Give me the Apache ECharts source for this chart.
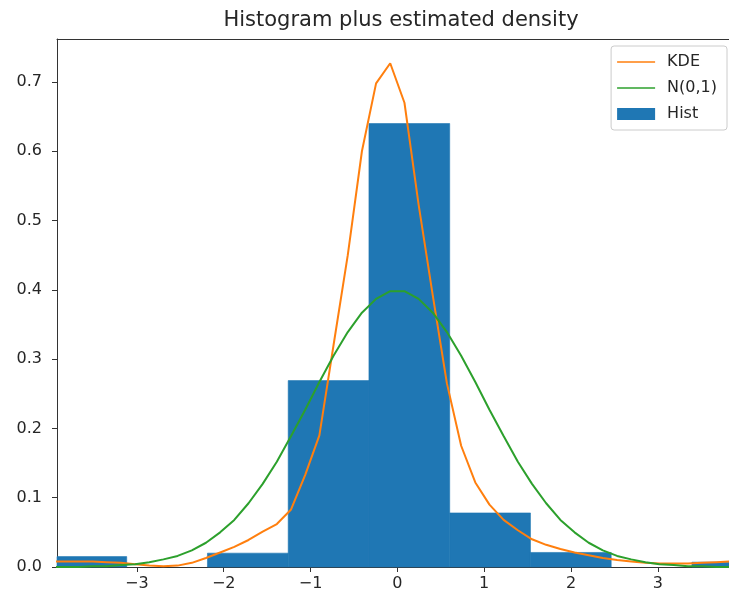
<!DOCTYPE html>
<html>
<head>
<meta charset="utf-8">
<script src="https://cdn.jsdelivr.net/npm/echarts@6/dist/echarts.min.js"></script>
<style>
  html, body { margin: 0; padding: 0; background: #fff; }
  #chart { width: 729px; height: 599px; }
</style>
</head>
<body>
<div id="chart"></div>
<script>
// Evaluation grid shared by the two density curves
const gridX = [
  -4.000, -3.837, -3.673, -3.510, -3.347, -3.184, -3.020, -2.857, -2.694, -2.531,
  -2.367, -2.204, -2.041, -1.878, -1.714, -1.551, -1.388, -1.224, -1.061, -0.898,
  -0.735, -0.571, -0.408, -0.245, -0.082,  0.082,  0.245,  0.408,  0.571,  0.735,
   0.898,  1.061,  1.224,  1.388,  1.551,  1.714,  1.878,  2.041,  2.204,  2.367,
   2.531,  2.694,  2.857,  3.020,  3.184,  3.347,  3.510,  3.673,  3.837,  4.000
];

// Kernel density estimate on the grid
const kdeValues = [
  0.008, 0.008, 0.008, 0.008, 0.007, 0.006, 0.004, 0.002, 0.001, 0.002,
  0.006, 0.013, 0.021, 0.029, 0.039, 0.051, 0.062, 0.083, 0.133, 0.190,
  0.320, 0.450, 0.600, 0.698, 0.727, 0.670, 0.523, 0.392, 0.265, 0.175,
  0.122, 0.090, 0.068, 0.053, 0.040, 0.032, 0.026, 0.021, 0.017, 0.013,
  0.010, 0.008, 0.006, 0.005, 0.005, 0.005, 0.006, 0.007, 0.008, 0.008
];

// Standard normal density on the same grid
const normalValues = [
  0.000, 0.000, 0.000, 0.001, 0.001, 0.003, 0.004, 0.007, 0.011, 0.016,
  0.024, 0.035, 0.050, 0.068, 0.092, 0.120, 0.152, 0.189, 0.227, 0.267,
  0.305, 0.339, 0.367, 0.387, 0.398, 0.398, 0.387, 0.367, 0.339, 0.305,
  0.267, 0.227, 0.189, 0.152, 0.120, 0.092, 0.068, 0.050, 0.035, 0.024,
  0.016, 0.011, 0.007, 0.004, 0.003, 0.001, 0.001, 0.000, 0.000, 0.000
];

// Histogram (density normalised)
const binEdges = [-4.047, -3.117, -2.187, -1.257, -0.327, 0.603, 1.533, 2.463, 3.393, 4.323];
const binHeights = [0.015, 0.000, 0.020, 0.269, 0.640, 0.078, 0.021, 0.000, 0.007];

const xTicks = [-3, -2, -1, 0, 1, 2, 3];
const yTicks = [0.0, 0.1, 0.2, 0.3, 0.4, 0.5, 0.6, 0.7];

const FONT = 'DejaVu Sans';
const INK = '#262626';
const SPINE = '#333';
// Legend handle drawn as a short horizontal stroke inside a 38x12 box
const LINE_ICON = 'path://M0,0 M38,12 M0,5.2 L38,5.2 L38,6.8 L0,6.8 Z';

const histData = binHeights.map((h, i) => [binEdges[i], binEdges[i + 1], h]);
const kdeData = gridX.map((x, i) => [x, kdeValues[i]]);
const normalData = gridX.map((x, i) => [x, normalValues[i]]);

function renderBin(params, api) {
  const topLeft = api.coord([api.value(0), api.value(2)]);
  const bottomRight = api.coord([api.value(1), 0]);
  const cs = params.coordSys;
  const shape = echarts.graphic.clipRectByRect(
    { x: topLeft[0], y: topLeft[1], width: bottomRight[0] - topLeft[0], height: bottomRight[1] - topLeft[1] },
    { x: cs.x, y: cs.y, width: cs.width, height: cs.height }
  );
  return shape && {
    type: 'rect',
    shape: shape,
    style: { fill: '#1f77b4', stroke: shape.height > 0 ? '#1f77b4' : null, lineWidth: 0.6 }
  };
}

const minus = v => (v < 0 ? '\u2212' + Math.abs(v) : String(v));

const chart = echarts.init(document.getElementById('chart'), null, { renderer: 'canvas' });
chart.setOption({
  animation: false,
  backgroundColor: '#fff',
  textStyle: { fontFamily: FONT },
  title: {
    text: 'Histogram plus estimated density',
    left: 396,
    textAlign: 'center',
    top: 5,
    textStyle: { fontFamily: FONT, fontSize: 21, fontWeight: 'normal', color: INK }
  },
  grid: { left: 57, right: 0, top: 39, bottom: 32, containLabel: false },
  legend: {
    orient: 'vertical',
    right: 2,
    top: 46,
    padding: [8, 10, 8, 6],
    itemGap: 10,
    itemWidth: 38,
    itemHeight: 12,
    borderColor: '#cccccc',
    borderWidth: 1,
    borderRadius: 3,
    backgroundColor: 'rgba(255,255,255,0.8)',
    textStyle: { fontFamily: FONT, fontSize: 16, color: INK, padding: [0, 0, 0, 7] },
    data: [
      { name: 'KDE', icon: LINE_ICON },
      { name: 'N(0,1)', icon: LINE_ICON },
      { name: 'Hist', icon: 'rect' }
    ]
  },
  xAxis: [
    {
      type: 'value',
      min: -3.92,
      max: 3.82,
      position: 'bottom',
      axisLine: { show: true, onZero: false, lineStyle: { color: SPINE, width: 1 } },
      axisTick: { show: true, customValues: xTicks, length: 5, lineStyle: { color: SPINE } },
      axisLabel: { customValues: xTicks, formatter: minus, fontSize: 16, color: INK, margin: 9, fontFamily: FONT },
      splitLine: { show: false }
    },
    {
      type: 'value',
      min: -3.92,
      max: 3.82,
      position: 'top',
      axisLine: { show: true, onZero: false, lineStyle: { color: SPINE, width: 1 } },
      axisTick: { show: false },
      axisLabel: { show: false },
      splitLine: { show: false }
    }
  ],
  yAxis: {
    type: 'value',
    min: 0,
    max: 0.762,
    position: 'left',
    axisLine: { show: true, onZero: false, lineStyle: { color: SPINE, width: 1 } },
    axisTick: { show: true, customValues: yTicks, length: 5, lineStyle: { color: SPINE } },
    axisLabel: { customValues: yTicks, formatter: v => v.toFixed(1), fontSize: 16, color: INK, margin: 15, fontFamily: FONT },
    splitLine: { show: false }
  },
  series: [
    {
      name: 'Hist',
      type: 'custom',
      renderItem: renderBin,
      encode: { x: [0, 1], y: 2 },
      itemStyle: { color: '#1f77b4' },
      data: histData,
      z: 1
    },
    {
      name: 'KDE',
      type: 'line',
      data: kdeData,
      symbol: 'none',
      smooth: false,
      clip: true,
      color: '#ff7f0e',
      lineStyle: { color: '#ff7f0e', width: 2 },
      z: 3
    },
    {
      name: 'N(0,1)',
      type: 'line',
      data: normalData,
      symbol: 'none',
      smooth: false,
      clip: true,
      color: '#2ca02c',
      lineStyle: { color: '#2ca02c', width: 2 },
      z: 3
    }
  ]
});
</script>
</body>
</html>
